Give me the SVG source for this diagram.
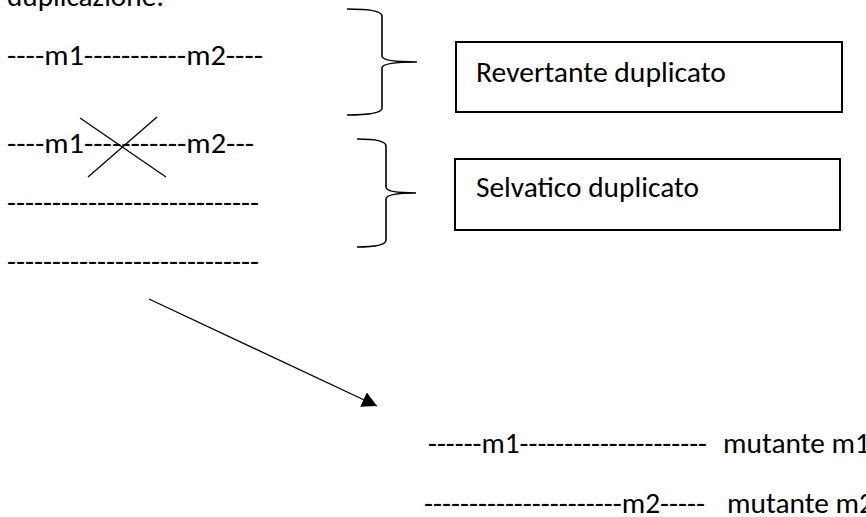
<svg xmlns="http://www.w3.org/2000/svg" width="866" height="517" viewBox="0 0 866 517">
  <style>
    .t { font-family: Carlito, "Open Sans", "Liberation Sans", sans-serif; font-size: 29.3px; fill: #000; }
    .box { fill: #fff; stroke: #000; stroke-width: 2; }
    .brace { fill: none; stroke: #000; stroke-width: 1.6; }
    .thin { fill: none; stroke: #000; stroke-width: 1.3; }
  </style>
  <defs>
    <marker id="head" viewBox="0 0 15 16" refX="15" refY="8" markerWidth="15" markerHeight="16" markerUnits="userSpaceOnUse" orient="auto">
      <path d="M0,0 L15,8 L0,16 z" fill="#000"/>
    </marker>
  </defs>
  <rect width="866" height="517" fill="#fff"/>

  <g id="heading">
    <text class="t" x="7" y="6" textLength="157" lengthAdjust="spacingAndGlyphs">duplicazione:</text>
  </g>

  <g id="chromosomes">
    <text class="t" x="7" y="65" textLength="256" lengthAdjust="spacingAndGlyphs">----m1-----------m2----</text>
    <text class="t" x="7" y="153" textLength="247" lengthAdjust="spacingAndGlyphs">----m1-----------m2---</text>
    <text class="t" x="7" y="212" textLength="252" lengthAdjust="spacingAndGlyphs">----------------------------</text>
    <text class="t" x="7" y="271" textLength="252" lengthAdjust="spacingAndGlyphs">----------------------------</text>
  </g>

  <g id="cross">
    <line class="thin" x1="80" y1="118" x2="166" y2="177"/>
    <line class="thin" x1="157" y1="117" x2="88" y2="177"/>
  </g>

  <g id="braces">
    <path class="brace" d="M347,9 C370,9 382,11 382,16 L382,56 C382,60 395,62 417,62 C395,62 382,64 382,68 L382,108 C382,113 370,115 347,115"/>
    <path class="brace" d="M357,139 C376,139 386,141 386,146 L386,187 C386,191 396,193 416,193 C396,193 386,195 386,199 L386,240 C386,245 376,247 357,247"/>
  </g>

  <g id="revertante">
    <rect class="box" x="456" y="42" width="386" height="70"/>
    <text class="t" x="476" y="82" textLength="250" lengthAdjust="spacingAndGlyphs">Revertante duplicato</text>
  </g>

  <g id="selvatico">
    <rect class="box" x="455" y="159" width="385" height="71"/>
    <text class="t" x="476" y="197" textLength="223" lengthAdjust="spacingAndGlyphs">Selvatico duplicato</text>
  </g>

  <g id="connectors">
    <line x1="149" y1="299" x2="377" y2="406" stroke="#000" stroke-width="1.3" marker-end="url(#head)"/>
  </g>

  <g id="mutants">
    <text class="t" x="428" y="453" textLength="279" lengthAdjust="spacingAndGlyphs">------m1---------------------</text>
    <text class="t" x="723" y="453" textLength="147" lengthAdjust="spacingAndGlyphs">mutante m1</text>
    <text class="t" x="424" y="513" textLength="281" lengthAdjust="spacingAndGlyphs">----------------------m2-----</text>
    <text class="t" x="727" y="513" textLength="147" lengthAdjust="spacingAndGlyphs">mutante m2</text>
  </g>
</svg>
